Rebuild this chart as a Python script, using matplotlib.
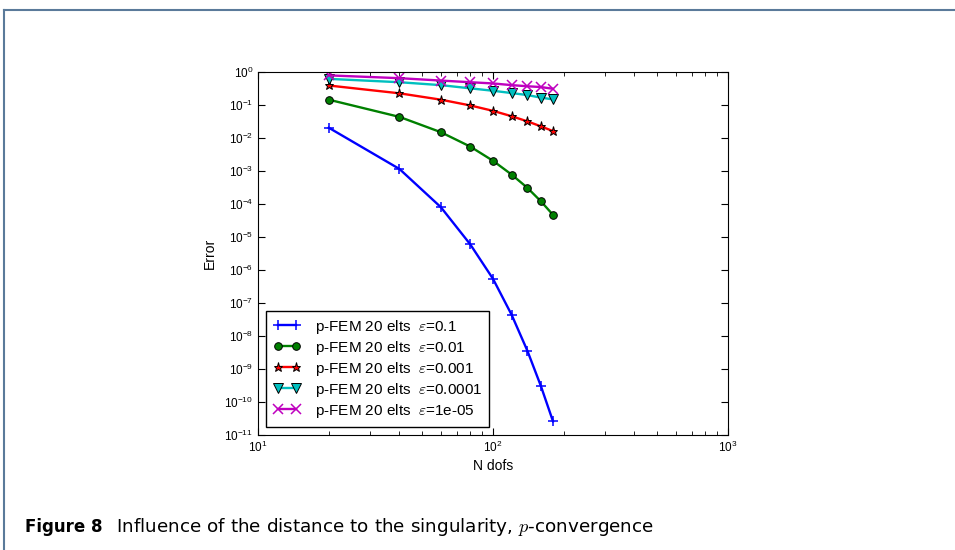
import matplotlib
matplotlib.use("Agg")
import matplotlib.pyplot as plt
from matplotlib.lines import Line2D

plt.rcParams['font.family'] = ['Liberation Sans', 'DejaVu Sans']
plt.rcParams['mathtext.fontset'] = 'cm'

n_dofs = [20, 40, 60, 80, 100, 120, 140, 160, 180]
err_eps_1e1 = [2.05e-2, 1.15e-3, 8.0e-5, 6.0e-6, 5.4e-7, 4.4e-8, 3.6e-9, 3.0e-10, 2.6e-11]
err_eps_1e2 = [0.145, 0.0436, 0.015, 0.0055, 0.00204, 7.8e-4, 3.1e-4, 1.2e-4, 4.7e-5]
err_eps_1e3 = [0.39, 0.226, 0.145, 0.097, 0.0665, 0.0457, 0.032, 0.0225, 0.0162]
err_eps_1e4 = [0.62, 0.49, 0.40, 0.32, 0.27, 0.23, 0.20, 0.167, 0.148]
err_eps_1e5 = [0.79, 0.65, 0.55, 0.49, 0.45, 0.40, 0.37, 0.35, 0.31]
eps_labels = ['0.1', '0.01', '0.001', '0.0001', '1e-05']

series = [err_eps_1e1, err_eps_1e2, err_eps_1e3, err_eps_1e4, err_eps_1e5]
styles = [
    dict(color=(0, 0, 1), marker='+', ms=7, mec=(0, 0, 1), mew=1.1),
    dict(color=(0, 0.5, 0), marker='o', ms=5.5, mfc=(0, 0.5, 0), mec='k', mew=0.7),
    dict(color=(1, 0, 0), marker='*', ms=6.5, mfc=(1, 0, 0), mec='k', mew=0.7),
    dict(color=(0, 0.75, 0.75), marker='v', ms=6.5, mfc=(0, 0.75, 0.75), mec='k', mew=0.7),
    dict(color=(0.75, 0, 0.75), marker='x', ms=6.5, mec=(0.75, 0, 0.75), mew=1.1),
]

fig = plt.figure(figsize=(9.55, 5.5), dpi=100)
ax = fig.add_axes([258 / 955, 1 - 435 / 550, 470 / 955, 363 / 550])

for ys, lab, st in zip(series, eps_labels, styles):
    ax.plot(n_dofs, ys, lw=1.7, label=r'p-FEM 20 elts  $\varepsilon$=' + lab, **st)

ax.set_xscale('log')
ax.set_yscale('log')
ax.set_xlim(10, 1000)
ax.set_ylim(1e-11, 1)
ax.set_yticks([10.0 ** k for k in range(-11, 1)])
ax.minorticks_on()
ax.yaxis.set_minor_locator(matplotlib.ticker.NullLocator())
ax.tick_params(which='both', direction='in', top=True, right=True, labelsize=8.5)
ax.tick_params(which='major', length=5)
ax.tick_params(which='minor', length=3)
ax.set_xlabel('N dofs', fontsize=10, labelpad=3)
ax.set_ylabel('Error', fontsize=10, labelpad=5)

leg = ax.legend(loc='lower left', fontsize=11, numpoints=2, fancybox=False,
                edgecolor='k', framealpha=1, borderaxespad=0.55, handlelength=1.8,
                handletextpad=0.9, labelspacing=0.2, borderpad=0.45)
leg.get_frame().set_linewidth(1.0)

# page frame lines
fig.add_artist(Line2D([4 / 955, 1], [1 - 10 / 550, 1 - 10 / 550], color='#5a7a9a', lw=1.5,
                      transform=fig.transFigure))
fig.add_artist(Line2D([4 / 955, 4 / 955], [0, 1 - 10 / 550], color='#5a7a9a', lw=1.5,
                      transform=fig.transFigure))

fig.text(25 / 955, 1 - 527 / 550, 'Figure 8', fontsize=12, fontweight='bold',
         va='center', ha='left', family=['DejaVu Sans'])
fig.text(116 / 955, 1 - 527 / 550, r'Influence of the distance to the singularity, $p$-convergence',
         fontsize=13.2, va='center', ha='left', family=['DejaVu Sans'])

fig.savefig('out.png', dpi=100)
